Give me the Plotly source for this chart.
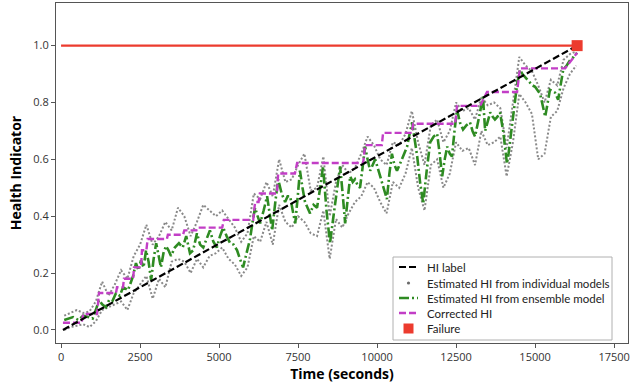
import plotly.graph_objects as go

# ---------------- data ----------------
ens_t = [100, 250, 380, 550, 700, 890, 1000, 1100, 1200, 1300, 1420, 1520, 1620, 1740, 1860, 1960,
         2120, 2280, 2370, 2450, 2530, 2610, 2690, 2770, 2850, 2930, 3010, 3090, 3160, 3240, 3320,
         3400, 3480, 3600, 3730, 3850, 3960, 4080, 4180, 4300, 4400, 4500, 4600, 4710, 4820, 4930,
         5030, 5130, 5240, 5350, 5460, 5570, 5660, 5760, 5870, 5980, 6060, 6140, 6220, 6300, 6410,
         6520, 6600, 6680, 6780, 6870, 6980, 7090, 7170, 7250, 7330, 7410, 7490, 7560, 7640, 7720,
         7800, 7880, 7990, 8100, 8200, 8290, 8400, 8510, 8620, 8730, 8830, 8910, 8990, 9070, 9150,
         9230, 9300, 9380, 9460, 9540, 9620, 9700, 9780, 9860, 9940, 10020, 10100, 10200, 10310,
         10390, 10470, 10550, 10630, 10710, 10790, 10870, 10950, 11030, 11110, 11190, 11270, 11360,
         11460, 11570, 11680, 11790, 11900, 11980, 12060, 12140, 12220, 12300, 12370, 12450, 12530,
         12620, 12720, 12830, 12940, 13020, 13100, 13230, 13350, 13420, 13500, 13580, 13660, 13730,
         13810, 13890, 13990, 14050, 14110, 14160, 14210, 14290, 14370, 14440, 14520, 14600, 14680,
         14760, 14840, 14920, 15000, 15080, 15160, 15240, 15320, 15400, 15470, 15550, 15630, 15730,
         15810, 15890, 16000, 16110, 16220, 16330]
ens_hi = [0.035, 0.04, 0.045, 0.035, 0.05, 0.045, 0.04, 0.07, 0.105, 0.09, 0.08, 0.105, 0.10, 0.13,
          0.12, 0.15, 0.14, 0.19, 0.235, 0.21, 0.245, 0.22, 0.28, 0.24, 0.175, 0.25, 0.305, 0.26,
          0.22, 0.27, 0.295, 0.28, 0.26, 0.29, 0.305, 0.29, 0.33, 0.27, 0.28, 0.34, 0.30, 0.29, 0.32,
          0.35, 0.31, 0.29, 0.33, 0.36, 0.33, 0.305, 0.30, 0.28, 0.25, 0.22, 0.27, 0.32, 0.38, 0.43,
          0.40, 0.375, 0.42, 0.47, 0.41, 0.35, 0.45, 0.53, 0.48, 0.45, 0.47, 0.47, 0.42, 0.375, 0.47,
          0.56, 0.50, 0.45, 0.43, 0.41, 0.44, 0.43, 0.50, 0.575, 0.42, 0.305, 0.40, 0.50, 0.575, 0.48,
          0.375, 0.46, 0.54, 0.52, 0.53, 0.51, 0.50, 0.57, 0.645, 0.60, 0.56, 0.58, 0.60, 0.57, 0.54,
          0.50, 0.46, 0.55, 0.62, 0.58, 0.56, 0.58, 0.60, 0.62, 0.645, 0.69, 0.73, 0.67, 0.61, 0.52,
          0.445, 0.56, 0.66, 0.68, 0.69, 0.62, 0.54, 0.60, 0.645, 0.62, 0.61, 0.70, 0.775, 0.73, 0.705,
          0.72, 0.73, 0.70, 0.68, 0.75, 0.82, 0.70, 0.73, 0.765, 0.75, 0.74, 0.75, 0.765, 0.70, 0.64,
          0.585, 0.62, 0.67, 0.74, 0.81, 0.87, 0.915, 0.90, 0.89, 0.88, 0.87, 0.86, 0.855, 0.84, 0.83,
          0.79, 0.75, 0.80, 0.845, 0.84, 0.835, 0.81, 0.86, 0.915, 0.93, 0.95, 0.96, 0.975]

model_t = [100, 300, 500, 700, 900, 1100, 1300, 1500, 1700, 1900, 2100, 2300, 2500, 2700, 2900,
           3100, 3300, 3500, 3700, 3900, 4100, 4300, 4500, 4700, 4900, 5100, 5300, 5500, 5700,
           5900, 6100, 6300, 6500, 6700, 6900, 7100, 7300, 7500, 7700, 7900, 8100, 8300, 8500,
           8700, 8900, 9100, 9300, 9500, 9700, 9900, 10100, 10300, 10500, 10700, 10900, 11100,
           11300, 11500, 11700, 11900, 12100, 12300, 12500, 12700, 12900, 13100, 13300, 13500,
           13700, 13900, 14100, 14300, 14500, 14700, 14900, 15100, 15300, 15500, 15700, 15900,
           16100, 16300]
model_a = [0.05, 0.06, 0.07, 0.06, 0.065, 0.10, 0.17, 0.12, 0.16, 0.21, 0.18, 0.26, 0.30, 0.37,
           0.30, 0.33, 0.38, 0.35, 0.43, 0.40, 0.33, 0.38, 0.44, 0.42, 0.40, 0.42, 0.39, 0.36, 0.31,
           0.34, 0.48, 0.46, 0.52, 0.47, 0.60, 0.52, 0.53, 0.58, 0.62, 0.49, 0.50, 0.61, 0.40, 0.52,
           0.58, 0.55, 0.57, 0.62, 0.68, 0.65, 0.60, 0.58, 0.66, 0.65, 0.69, 0.77, 0.66, 0.58, 0.72,
           0.74, 0.66, 0.70, 0.80, 0.77, 0.78, 0.74, 0.82, 0.79, 0.80, 0.78, 0.64, 0.80, 0.96, 0.93,
           0.91, 0.86, 0.80, 0.88, 0.86, 0.95, 0.97, 0.98]
model_b = [0.00, 0.01, 0.015, 0.02, 0.01, 0.03, 0.07, 0.08, 0.09, 0.10, 0.07, 0.13, 0.16, 0.19,
           0.11, 0.18, 0.15, 0.24, 0.25, 0.24, 0.20, 0.25, 0.22, 0.26, 0.27, 0.29, 0.25, 0.23, 0.19,
           0.22, 0.33, 0.31, 0.38, 0.30, 0.44, 0.38, 0.36, 0.40, 0.38, 0.34, 0.33, 0.42, 0.25, 0.39,
           0.36, 0.41, 0.45, 0.47, 0.52, 0.50, 0.45, 0.41, 0.52, 0.50, 0.55, 0.64, 0.50, 0.42, 0.58,
           0.60, 0.50, 0.55, 0.66, 0.63, 0.64, 0.58, 0.70, 0.65, 0.66, 0.68, 0.54, 0.66, 0.83, 0.80,
           0.76, 0.60, 0.62, 0.75, 0.77, 0.85, 0.90, 0.93]

corrected_t = [60, 650, 700, 1140, 1200, 1740, 1770, 1960, 1990, 2280, 2310, 2530, 2560, 2700,
               2740, 3350, 3380, 3860, 3900, 4280, 4320, 5100, 5150, 6080, 6140, 6250, 6290, 6830,
               6870, 7400, 7470, 9560, 9620, 10150, 10190, 11100, 11140, 12470, 12530, 13260,
               13480, 14430, 14520, 15950, 16330]
corrected_hi = [0.025, 0.025, 0.056, 0.056, 0.13, 0.13, 0.15, 0.15, 0.18, 0.18, 0.22, 0.22, 0.28,
                0.28, 0.32, 0.32, 0.335, 0.335, 0.35, 0.35, 0.36, 0.36, 0.387, 0.387, 0.45, 0.45,
                0.48, 0.48, 0.55, 0.55, 0.587, 0.587, 0.65, 0.65, 0.693, 0.693, 0.725, 0.725,
                0.788, 0.788, 0.837, 0.837, 0.92, 0.92, 0.975]

label_t = [60, 16330]
label_hi = [0.0, 1.0]
threshold_t = [0, 16330]
threshold_hi = [1.0, 1.0]
failure_t = [16330]
failure_hi = [1.0]

x_ticks = [0, 2500, 5000, 7500, 10000, 12500, 15000, 17500]
y_ticks = [0.0, 0.2, 0.4, 0.6, 0.8, 1.0]

legend_labels = ["HI label", "Estimated HI from individual models",
                 "Estimated HI from ensemble model", "Corrected HI", "Failure"]

# ---------------- styles ----------------
FONT = "Open Sans"
LEG_FONT = "Lato"
GREY = "rgba(40,40,40,0.55)"
GREEN = "#2e8b22"
MAGENTA = "#c23ec6"
RED = "#ec3b2e"
BLACK_DASH = "7px,3px"
GREEN_DASH = "10px,3px,2px,3px"

fig = go.Figure()

for mv in (model_a, model_b):
    fig.add_trace(go.Scatter(x=model_t, y=mv, mode="lines",
                             line=dict(color=GREY, width=2.0, dash="2px,2px"),
                             showlegend=False, hoverinfo="skip"))
fig.add_trace(go.Scatter(x=ens_t, y=ens_hi, mode="lines",
                         line=dict(color=GREEN, width=2.6, dash=GREEN_DASH),
                         name=legend_labels[2], showlegend=False))
fig.add_trace(go.Scatter(x=corrected_t, y=corrected_hi, mode="lines",
                         line=dict(color=MAGENTA, width=2.4, dash=BLACK_DASH),
                         name=legend_labels[3], showlegend=False))
fig.add_trace(go.Scatter(x=label_t, y=label_hi, mode="lines",
                         line=dict(color="black", width=2.2, dash=BLACK_DASH),
                         name=legend_labels[0], showlegend=False))
fig.add_trace(go.Scatter(x=threshold_t, y=threshold_hi, mode="lines",
                         line=dict(color=RED, width=2.2),
                         showlegend=False, hoverinfo="skip"))
fig.add_trace(go.Scatter(x=failure_t, y=failure_hi, mode="markers",
                         marker=dict(color=RED, symbol="square", size=11),
                         name=legend_labels[4], showlegend=False))

# ---------------- manual legend (matplotlib-like compact box) ----------------
L, R, T, B = 56, 628, 3, 343
def px(xp):
    return (xp - L) / (R - L)
def py(yp):
    return (B - yp) / (B - T)

shapes = [dict(type="rect", xref="paper", yref="paper",
               x0=px(393), x1=px(612), y0=py(340), y1=py(257),
               line=dict(color="#b0b0b0", width=1), fillcolor="white", layer="above")]
entry_y = [267, 283, 298, 313, 328.5]
sym_x0, sym_x1, sym_mid, text_x = 399, 418, 408.5, 425
shapes.append(dict(type="line", xref="paper", yref="paper", x0=px(sym_x0), x1=px(sym_x1),
                   y0=py(entry_y[0]), y1=py(entry_y[0]), layer="above",
                   line=dict(color="black", width=2.2, dash=BLACK_DASH)))
shapes.append(dict(type="circle", xref="paper", yref="paper", xsizemode="pixel", ysizemode="pixel",
                   xanchor=px(sym_mid), yanchor=py(entry_y[1]), x0=-1.6, x1=1.6, y0=-1.6, y1=1.6,
                   layer="above", line=dict(width=0), fillcolor="rgba(70,70,70,0.8)"))
shapes.append(dict(type="line", xref="paper", yref="paper", x0=px(sym_x0), x1=px(sym_x1),
                   y0=py(entry_y[2]), y1=py(entry_y[2]), layer="above",
                   line=dict(color=GREEN, width=2.4, dash=GREEN_DASH)))
shapes.append(dict(type="line", xref="paper", yref="paper", x0=px(sym_x0), x1=px(sym_x1),
                   y0=py(entry_y[3]), y1=py(entry_y[3]), layer="above",
                   line=dict(color=MAGENTA, width=2.4, dash=BLACK_DASH)))
shapes.append(dict(type="rect", xref="paper", yref="paper", xsizemode="pixel", ysizemode="pixel",
                   xanchor=px(sym_mid), yanchor=py(entry_y[4]), x0=-5, x1=5, y0=-5, y1=5,
                   layer="above", line=dict(width=0), fillcolor=RED))

annotations = [dict(xref="paper", yref="paper", x=px(text_x), y=py(yy), text=lab,
                    xanchor="left", yanchor="middle", showarrow=False,
                    font=dict(family=LEG_FONT, size=11.5, color="#222"))
               for lab, yy in zip(legend_labels, entry_y)]

axis_common = dict(showline=True, linecolor="#555", linewidth=1, mirror=True,
                   ticks="outside", ticklen=4, tickcolor="#555", showgrid=False,
                   zeroline=False, automargin=False,
                   tickfont=dict(family=FONT, size=11, color="#333"))

fig.update_layout(
    width=644, height=383,
    margin=dict(l=L, r=644 - R, t=T, b=383 - B, autoexpand=False),
    paper_bgcolor="white", plot_bgcolor="white",
    font=dict(family=FONT, color="#222"),
    showlegend=False,
    shapes=shapes, annotations=annotations,
    xaxis=dict(range=[-160, 17940], tickvals=x_ticks,
               ticktext=[str(v) for v in x_ticks],
               title=dict(text="<b>Time (seconds)</b>", font=dict(family=FONT, size=14, color="black"),
                          standoff=3),
               **axis_common),
    yaxis=dict(range=[-0.046, 1.15], tickvals=y_ticks,
               ticktext=[f"{v:.1f}" for v in y_ticks],
               title=dict(text="<b>Health Indicator</b>", font=dict(family=FONT, size=14, color="black"),
                          standoff=8),
               **axis_common),
)

fig.write_html("out.html", config={"displayModeBar": False},
               post_script="document.body.style.margin='0';document.body.style.padding='0';")
